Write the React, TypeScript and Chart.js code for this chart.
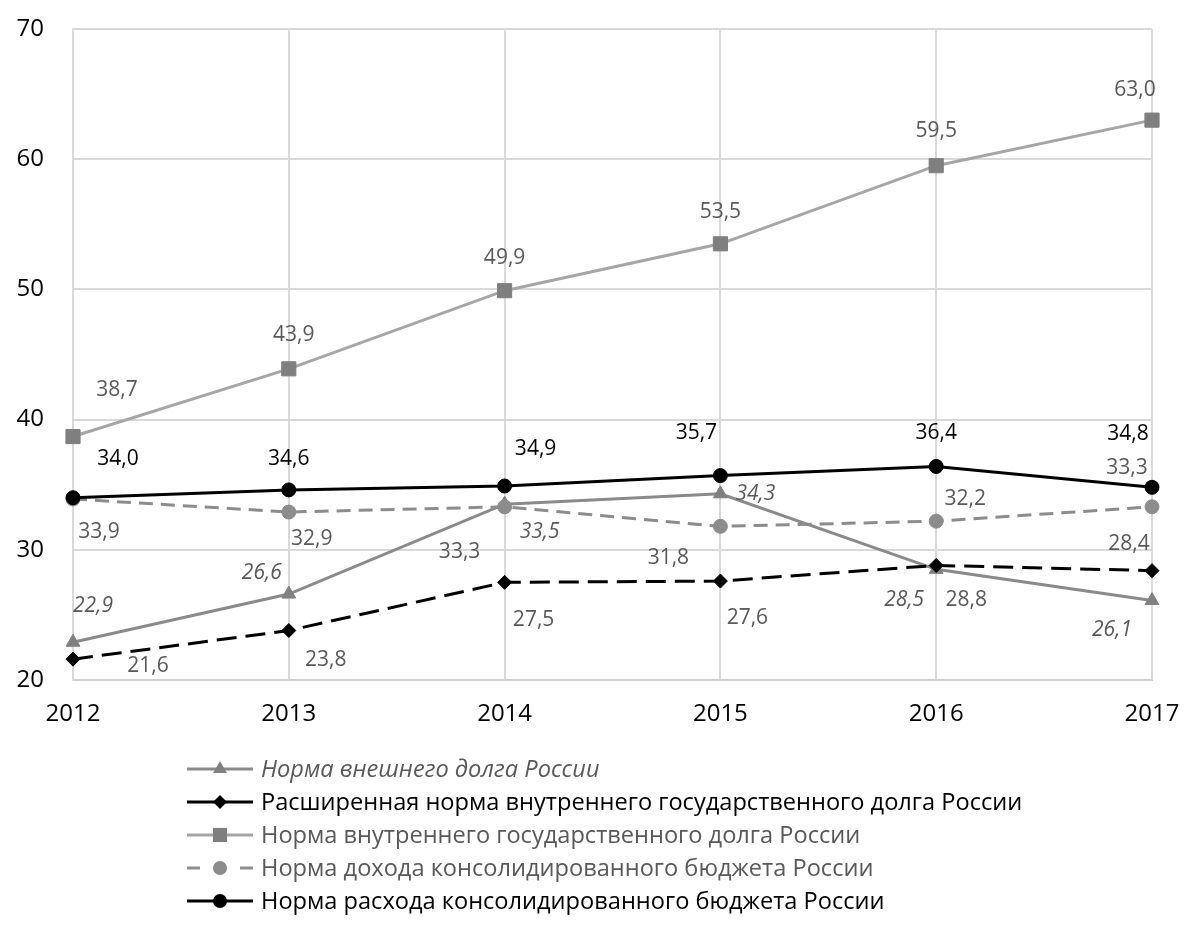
import React, { useEffect, useRef } from "react";
import { Chart, registerables } from "chart.js";

Chart.register(...registerables);

const years = ["2012", "2013", "2014", "2015", "2016", "2017"];
const yTicks = [20, 30, 40, 50, 60, 70];

const seriesNames = [
  "Норма внешнего долга России",
  "Расширенная норма внутреннего государственного долга России",
  "Норма внутреннего государственного долга России",
  "Норма дохода консолидированного бюджета России",
  "Норма расхода консолидированного бюджета России",
];

const externalDebt = [22.9, 26.6, 33.5, 34.3, 28.5, 26.1];
const extendedDomesticDebt = [21.6, 23.8, 27.5, 27.6, 28.8, 28.4];
const domesticDebt = [38.7, 43.9, 49.9, 53.5, 59.5, 63.0];
const budgetRevenue = [33.9, 32.9, 33.3, 31.8, 32.2, 33.3];
const budgetExpenditure = [34.0, 34.6, 34.9, 35.7, 36.4, 34.8];

// label placement offsets (px) relative to each point, per dataset
const labelOffsets: number[][][] = [
  [[20, -36], [-27, -21], [35, 28], [35, 0], [-32, 31], [-40, 29]],
  [[75, 7], [37, 29], [29, 38], [27, 37], [30, 35], [-23, -27]],
  [[44, -47], [5, -34], [0, -33], [0, -32], [0, -35], [-17, -30]],
  [[26, 33], [23, 27], [-45, 45], [-52, 32], [29, -22], [-25, -39]],
  [[45, -39], [0, -31], [31, -37], [-24, -43], [0, -33], [-24, -53]],
];

const FONT = "'Open Sans', 'Noto Sans', sans-serif";

const styles = [
  { line: "#8a8a8a", marker: "#808080", dash: [] as number[], point: "triangle", radius: 8, label: "#595959", italic: true },
  { line: "#000000", marker: "#000000", dash: [20, 9], point: "rectRot", radius: 7, label: "#595959", italic: false },
  { line: "#a6a6a6", marker: "#7f7f7f", dash: [] as number[], point: "rect", radius: 10, label: "#595959", italic: false },
  { line: "#8c8c8c", marker: "#8c8c8c", dash: [14, 8], point: "circle", radius: 7, label: "#595959", italic: false },
  { line: "#000000", marker: "#000000", dash: [] as number[], point: "circle", radius: 7, label: "#000000", italic: false },
];

const legendTextColors = ["#595959", "#000000", "#595959", "#595959", "#000000"];

const fmt = (v: number) => v.toFixed(1).replace(".", ",");

function drawMarker(ctx: CanvasRenderingContext2D, type: string, x: number, y: number, r: number) {
  ctx.beginPath();
  if (type === "circle") {
    ctx.arc(x, y, r, 0, Math.PI * 2);
  } else if (type === "rect") {
    const s = r * Math.SQRT1_2;
    ctx.rect(x - s, y - s, 2 * s, 2 * s);
  } else if (type === "rectRot") {
    ctx.moveTo(x, y - r);
    ctx.lineTo(x + r, y);
    ctx.lineTo(x, y + r);
    ctx.lineTo(x - r, y);
    ctx.closePath();
  } else if (type === "triangle") {
    ctx.moveTo(x, y - r);
    ctx.lineTo(x + r * 0.866, y + r * 0.5);
    ctx.lineTo(x - r * 0.866, y + r * 0.5);
    ctx.closePath();
  }
  ctx.fill();
}

const labelPlugin = {
  id: "dataLabels",
  afterDatasetsDraw(chart: any) {
    const ctx = chart.ctx;
    ctx.save();
    ctx.textAlign = "center";
    ctx.textBaseline = "middle";
    chart.data.datasets.forEach((ds: any, di: number) => {
      const meta = chart.getDatasetMeta(di);
      const st = styles[di];
      ctx.font = `${st.italic ? "italic " : ""}21px ${FONT}`;
      ctx.fillStyle = st.label;
      meta.data.forEach((el: any, i: number) => {
        const off = labelOffsets[di][i];
        ctx.fillText(fmt(ds.data[i]), el.x + off[0], el.y + off[1]);
      });
    });
    ctx.restore();
  },
};

const legendPlugin = {
  id: "customLegend",
  afterDraw(chart: any) {
    const ctx = chart.ctx;
    const x0 = 187;
    const x1 = 253;
    const xm = 220;
    const tx = 261;
    const y0 = 769;
    const step = 33;
    ctx.save();
    seriesNames.forEach((name, i) => {
      const st = styles[i];
      const y = y0 + i * step;
      ctx.strokeStyle = st.line;
      ctx.lineWidth = 3;
      ctx.setLineDash([]);
      ctx.beginPath();
      if (i === 3) {
        ctx.moveTo(x0, y);
        ctx.lineTo(x0 + 13, y);
        ctx.moveTo(x1 - 13, y);
        ctx.lineTo(x1, y);
      } else {
        ctx.moveTo(x0, y);
        ctx.lineTo(x1, y);
      }
      ctx.stroke();
      ctx.fillStyle = st.marker;
      const r = st.point === "rect" ? 10 : st.point === "triangle" ? 8 : 7;
      drawMarker(ctx, st.point, xm, y, r);
      ctx.font = `${st.italic ? "italic " : ""}23.6px ${FONT}`;
      ctx.fillStyle = legendTextColors[i];
      ctx.textAlign = "left";
      ctx.textBaseline = "middle";
      ctx.fillText(name, tx, y + 1);
    });
    ctx.restore();
  },
};

export default function App() {
  const ref = useRef<HTMLCanvasElement | null>(null);

  useEffect(() => {
    if (!ref.current) return;
    const allSeries = [externalDebt, extendedDomesticDebt, domesticDebt, budgetRevenue, budgetExpenditure];
    const chart = new Chart(ref.current, {
      type: "line",
      data: {
        labels: years,
        datasets: allSeries.map((d, i) => ({
          label: seriesNames[i],
          data: d,
          borderColor: styles[i].line,
          borderWidth: 3,
          borderDash: styles[i].dash,
          pointStyle: styles[i].point as any,
          pointRadius: styles[i].radius,
          pointBackgroundColor: styles[i].marker,
          pointBorderColor: styles[i].marker,
          pointBorderWidth: 1,
          tension: 0,
          fill: false,
          order: [3, 1, 4, 2, 0][i],
        })),
      },
      options: {
        animation: false,
        responsive: false,
        maintainAspectRatio: false,
        layout: { padding: { left: 0, top: 29, right: 34, bottom: 204 } },
        plugins: {
          legend: { display: false },
          tooltip: { enabled: false },
          title: { display: false },
        },
        scales: {
          x: {
            type: "category",
            offset: false,
            grid: { color: "#d9d9d9", lineWidth: 2, drawTicks: false },
            border: { color: "#cfcfcf", width: 2 },
            ticks: { color: "#000000", font: { family: FONT, size: 24 }, padding: 20, maxRotation: 0 },
            afterFit: (s: any) => {
              s.height = 60;
              s.paddingLeft = 0;
              s.paddingRight = 0;
            },
          },
          y: {
            min: 20,
            max: 70,
            afterBuildTicks: (s: any) => {
              s.ticks = yTicks.map((v) => ({ value: v }));
            },
            grid: { color: "#d9d9d9", lineWidth: 2, drawTicks: false },
            border: { color: "#d9d9d9", width: 2 },
            ticks: { color: "#000000", font: { family: FONT, size: 24 }, padding: 29 },
            afterFit: (s: any) => {
              s.width = 73;
              s.paddingTop = 0;
              s.paddingBottom = 0;
            },
          },
        },
      },
      plugins: [labelPlugin, legendPlugin],
    });
    return () => chart.destroy();
  }, []);

  return (
    <div style={{ position: "absolute", left: 0, top: 0, width: 1186, height: 944 }}>
      <canvas ref={ref} width={1186} height={944} style={{ width: 1186, height: 944, display: "block" }} />
    </div>
  );
}
